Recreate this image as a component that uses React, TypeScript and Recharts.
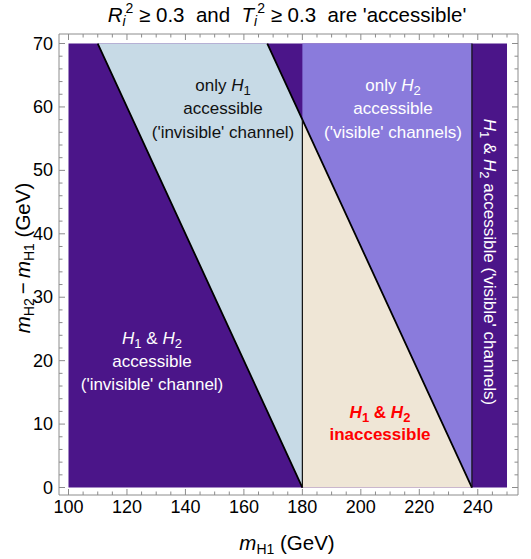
import React from 'react';
import { ComposedChart, Area, Line, XAxis, YAxis, ReferenceLine } from 'recharts';

// m_H1 sample points (GeV) where the region boundaries change
const mH1 = [100, 110, 168, 180, 238, 250];
// [lower, upper] of m_H2 - m_H1 for each region at those points
const bothAccessible = [[0, 70], [0, 70], [0, 70], [0, 70], [0, 70], [0, 70]];
const onlyH1 = [null, [70, 70], [12, 70], [0, 58], null, null];
const onlyH2 = [null, null, null, [58, 70], [0, 70], null];
const neither = [null, null, null, [0, 58], [0, 0], null];
// black boundary lines
const invisibleEdge = [null, 70, 12, 0, null, null];
const visibleEdge = [null, null, 70, 58, 0, null];
const verticalEdges = [
  { x: 180, top: 58 },
  { x: 238, top: 70 },
];

const xTicks = [100, 105, 110, 115, 120, 125, 130, 135, 140, 145, 150, 155, 160, 165, 170, 175, 180, 185, 190, 195, 200, 205, 210, 215, 220, 225, 230, 235, 240, 245, 250];
const xLabels = [100, 120, 140, 160, 180, 200, 220, 240];
const yTicks = [0, 2, 4, 6, 8, 10, 12, 14, 16, 18, 20, 22, 24, 26, 28, 30, 32, 34, 36, 38, 40, 42, 44, 46, 48, 50, 52, 54, 56, 58, 60, 62, 64, 66, 68, 70];
const yLabels = [0, 10, 20, 30, 40, 50, 60, 70];

const data = mH1.map((x, i) => ({
  x,
  both: bothAccessible[i],
  onlyH1: onlyH1[i],
  onlyH2: onlyH2[i],
  neither: neither[i],
  invisibleEdge: invisibleEdge[i],
  visibleEdge: visibleEdge[i],
}));

const FONT = '"Liberation Sans", Arial, Helvetica, sans-serif';
const FRAME = '#8c8c8c';
const DARK = '#4b1589';
const LIGHT_BLUE = '#c7dae6';
const LIGHT_PURPLE = '#8a7bdc';
const BEIGE = '#efe6d6';

const W = 531;
const H = 559;

function BottomTick({ x, y, payload }: any) {
  const major = xLabels.includes(payload.value);
  return (
    <g>
      <line x1={x} x2={x} y1={y} y2={y - (major ? 6 : 3.5)} stroke={FRAME} />
      {major && (
        <text x={x} y={y + 18} textAnchor="middle" fontFamily={FONT} fontSize={18} fill="#000">
          {payload.value}
        </text>
      )}
    </g>
  );
}

function TopTick({ x, y, payload }: any) {
  const major = xLabels.includes(payload.value);
  return <line x1={x} x2={x} y1={y} y2={y + (major ? 6 : 3.5)} stroke={FRAME} />;
}

function LeftTick({ x, y, payload }: any) {
  const major = yLabels.includes(payload.value);
  return (
    <g>
      <line x1={x} x2={x + (major ? 6 : 3.5)} y1={y} y2={y} stroke={FRAME} />
      {major && (
        <text x={x - 6} y={y + 6} textAnchor="end" fontFamily={FONT} fontSize={18} fill="#000">
          {payload.value}
        </text>
      )}
    </g>
  );
}

function RightTick({ x, y, payload }: any) {
  const major = yLabels.includes(payload.value);
  return <line x1={x} x2={x - (major ? 6 : 3.5)} y1={y} y2={y} stroke={FRAME} />;
}

const NB = '\u00a0';
const THIN = '\u2009';

function Overlay() {
  const sub = 13;
  return (
    <svg width={W} height={H} style={{ position: 'absolute', left: 0, top: 0, pointerEvents: 'none' }} fontFamily={FONT}>
      {/* title */}
      <text x={287} y={22} textAnchor="middle" fontSize={20.5} fill="#000">
        <tspan fontStyle="italic">R</tspan>
        <tspan fontSize={14} fontStyle="italic" dy={4}>i</tspan>
        <tspan fontSize={14} dy={-13}>2</tspan>
        <tspan dy={9}>{`${NB}≥${NB}0.3${NB}${NB}and${NB}${NB}`}</tspan>
        <tspan fontStyle="italic">T</tspan>
        <tspan fontSize={14} fontStyle="italic" dy={4}>i</tspan>
        <tspan fontSize={14} dy={-13}>2</tspan>
        <tspan dy={9}>{`${NB}≥${NB}0.3${NB}${NB}are${NB}'accessible'`}</tspan>
      </text>

      {/* x label */}
      <text x={287} y={550} textAnchor="middle" fontSize={20.5} fill="#000">
        <tspan fontStyle="italic">m</tspan>
        <tspan fontSize={14} dy={4}>H1</tspan>
        <tspan dy={-4}>{`${NB}(GeV)`}</tspan>
      </text>

      {/* y label */}
      <text transform="translate(30,258) rotate(-90)" textAnchor="middle" fontSize={20.5} fill="#000">
        <tspan fontStyle="italic">m</tspan>
        <tspan fontSize={14} dy={4}>H2</tspan>
        <tspan dy={-4}>{`${THIN}−${THIN}`}</tspan>
        <tspan fontStyle="italic">m</tspan>
        <tspan fontSize={14} dy={4}>H1</tspan>
        <tspan dy={-4}>{`${NB}(GeV)`}</tspan>
      </text>

      {/* only H1 */}
      <g fontSize={17} fill="#111" textAnchor="middle">
        <text x={223} y={91}>
          <tspan>{`only${NB}`}</tspan>
          <tspan fontStyle="italic">H</tspan>
          <tspan fontSize={sub} dy={4}>1</tspan>
        </text>
        <text x={223} y={114}>accessible</text>
        <text x={223} y={138}>('invisible' channel)</text>
      </g>

      {/* only H2 */}
      <g fontSize={17} fill="#fff" textAnchor="middle">
        <text x={393} y={91}>
          <tspan>{`only${NB}`}</tspan>
          <tspan fontStyle="italic">H</tspan>
          <tspan fontSize={sub} dy={4}>2</tspan>
        </text>
        <text x={393} y={114}>accessible</text>
        <text x={393} y={138}>('visible' channels)</text>
      </g>

      {/* H1 & H2 invisible */}
      <g fontSize={17} fill="#fff" textAnchor="middle">
        <text x={152} y={344}>
          <tspan fontStyle="italic">H</tspan>
          <tspan fontSize={sub} dy={4}>1</tspan>
          <tspan dy={-4}>{`${NB}&${NB}`}</tspan>
          <tspan fontStyle="italic">H</tspan>
          <tspan fontSize={sub} dy={4}>2</tspan>
        </text>
        <text x={152} y={367}>accessible</text>
        <text x={152} y={390}>('invisible' channel)</text>
      </g>

      {/* inaccessible */}
      <g fontSize={17} fill="#f00" fontWeight="bold" textAnchor="middle">
        <text x={380} y={418}>
          <tspan fontStyle="italic">H</tspan>
          <tspan fontSize={sub} dy={4}>1</tspan>
          <tspan dy={-4}>{`${NB}&${NB}`}</tspan>
          <tspan fontStyle="italic">H</tspan>
          <tspan fontSize={sub} dy={4}>2</tspan>
        </text>
        <text x={380} y={440}>inaccessible</text>
      </g>

      {/* rotated right label */}
      <text transform="translate(484,262) rotate(90)" textAnchor="middle" fontSize={17} fill="#fff">
        <tspan fontStyle="italic">H</tspan>
        <tspan fontSize={sub} dy={4}>1</tspan>
        <tspan dy={-4}>{`${NB}&${NB}`}</tspan>
        <tspan fontStyle="italic">H</tspan>
        <tspan fontSize={sub} dy={4}>2</tspan>
        <tspan dy={-4}>{`${NB}accessible${NB}('visible'${NB}channels)`}</tspan>
      </text>
    </svg>
  );
}

export default function App() {
  return (
    <div style={{ position: 'absolute', left: 0, top: 0, width: W, height: H, background: '#fff' }}>
      <ComposedChart width={W} height={H} data={data} margin={{ top: 33, right: 12, bottom: 0, left: 0 }}>
        <XAxis
          xAxisId="b"
          dataKey="x"
          type="number"
          domain={[96.75, 253.76]}
          allowDataOverflow
          ticks={xTicks}
          interval={0}
          height={64}
          tickSize={0}
          tickMargin={0}
          stroke={FRAME}
          tick={<BottomTick />}
        />
        <XAxis
          xAxisId="t"
          orientation="top"
          dataKey="x"
          type="number"
          domain={[96.75, 253.76]}
          allowDataOverflow
          ticks={xTicks}
          interval={0}
          height={1}
          tickSize={0}
          tickMargin={0}
          stroke={FRAME}
          tick={<TopTick />}
        />
        <YAxis
          yAxisId="l"
          type="number"
          domain={[-1.18, 71.5]}
          allowDataOverflow
          ticks={yTicks}
          interval={0}
          width={59}
          tickSize={0}
          tickMargin={0}
          stroke={FRAME}
          tick={<LeftTick />}
        />
        <YAxis
          yAxisId="r"
          orientation="right"
          type="number"
          domain={[-1.18, 71.5]}
          allowDataOverflow
          ticks={yTicks}
          interval={0}
          width={1}
          tickSize={0}
          tickMargin={0}
          stroke={FRAME}
          tick={<RightTick />}
        />
        <Area xAxisId="b" yAxisId="l" type="linear" dataKey="both" fill={DARK} fillOpacity={1} stroke="none" isAnimationActive={false} />
        <Area xAxisId="b" yAxisId="l" type="linear" dataKey="onlyH1" fill={LIGHT_BLUE} fillOpacity={1} stroke="none" isAnimationActive={false} />
        <Area xAxisId="b" yAxisId="l" type="linear" dataKey="onlyH2" fill={LIGHT_PURPLE} fillOpacity={1} stroke="none" isAnimationActive={false} />
        <Area xAxisId="b" yAxisId="l" type="linear" dataKey="neither" fill={BEIGE} fillOpacity={1} stroke="none" isAnimationActive={false} />
        <Line xAxisId="b" yAxisId="l" type="linear" dataKey="invisibleEdge" stroke="#000" strokeWidth={1.8} dot={false} activeDot={false} isAnimationActive={false} />
        <Line xAxisId="b" yAxisId="l" type="linear" dataKey="visibleEdge" stroke="#000" strokeWidth={1.8} dot={false} activeDot={false} isAnimationActive={false} />
        {verticalEdges.map((e) => (
          <ReferenceLine
            key={e.x}
            xAxisId="b"
            yAxisId="l"
            segment={[{ x: e.x, y: 0 }, { x: e.x, y: e.top }]}
            stroke="#111"
            strokeWidth={1.2}
          />
        ))}
      </ComposedChart>
      <Overlay />
    </div>
  );
}
